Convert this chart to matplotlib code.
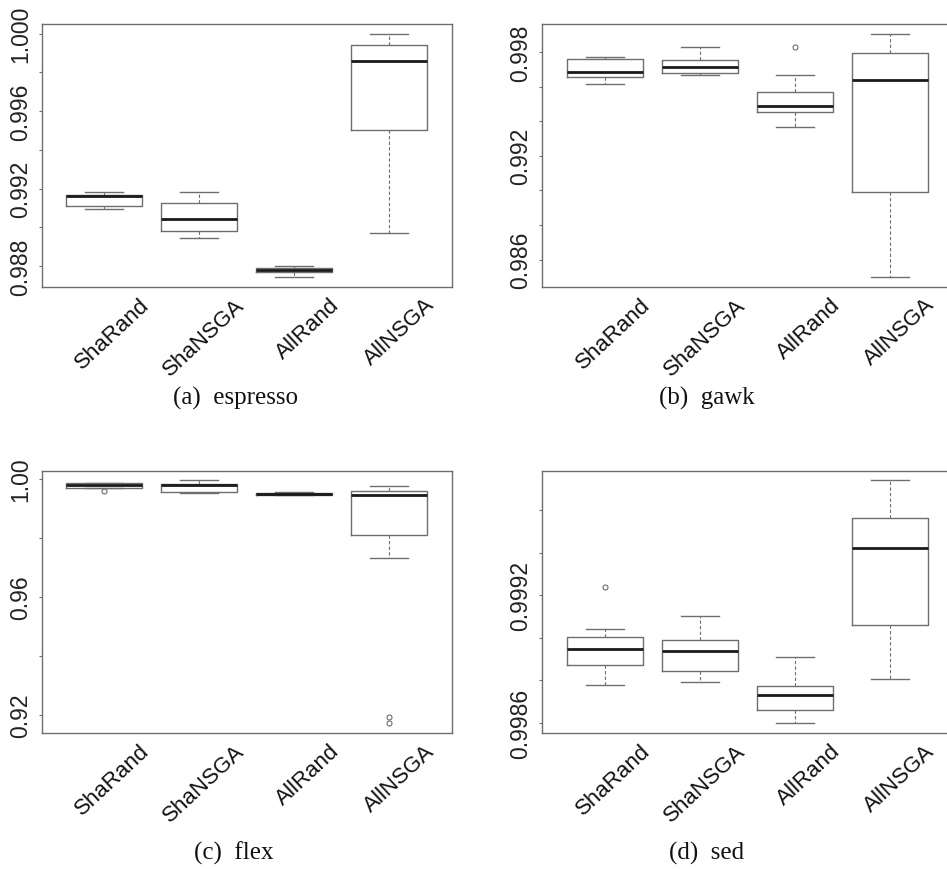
"""Four boxplot panels (espresso, gawk, flex, sed) comparing ShaRand/ShaNSGA/AllRand/AllNSGA."""

import matplotlib

matplotlib.use("Agg")
import matplotlib.pyplot as plt
from matplotlib.ticker import FixedLocator, FixedFormatter

methods = ["ShaRand", "ShaNSGA", "AllRand", "AllNSGA"]

# (a) espresso
espresso_whislo = [0.99095, 0.98946, 0.98743, 0.98971]
espresso_q1 = [0.99112, 0.98978, 0.98767, 0.99504]
espresso_med = [0.99160, 0.99040, 0.98777, 0.99859]
espresso_q3 = [0.99169, 0.99126, 0.98790, 0.99940]
espresso_whishi = [0.99183, 0.99183, 0.98798, 1.00000]
espresso_fliers = [[], [], [], []]
espresso_ticks = [0.988, 0.990, 0.992, 0.994, 0.996, 0.998, 1.000]
espresso_labels = ["0.988", "", "0.992", "", "0.996", "", "1.000"]

# (b) gawk
gawk_whislo = [0.99618, 0.99666, 0.99366, 0.98500]
gawk_q1 = [0.99653, 0.99681, 0.99451, 0.98994]
gawk_med = [0.99685, 0.99712, 0.99489, 0.99639]
gawk_q3 = [0.99762, 0.99756, 0.99572, 0.99793]
gawk_whishi = [0.99773, 0.99831, 0.99670, 0.99906]
gawk_fliers = [[], [], [0.99829], []]
gawk_ticks = [0.986, 0.988, 0.990, 0.992, 0.994, 0.996, 0.998]
gawk_labels = ["0.986", "", "", "0.992", "", "", "0.998"]

# (c) flex
flex_whislo = [0.99680, 0.99525, 0.99443, 0.97328]
flex_q1 = [0.99695, 0.99545, 0.99467, 0.98100]
flex_med = [0.99785, 0.99806, 0.99491, 0.99457]
flex_q3 = [0.99864, 0.99840, 0.99535, 0.99593]
flex_whishi = [0.99874, 0.99952, 0.99559, 0.99773]
flex_fliers = [[0.99590], [], [], [0.91920, 0.91716]]
flex_ticks = [0.92, 0.94, 0.96, 0.98, 1.00]
flex_labels = ["0.92", "", "0.96", "", "1.00"]

# (d) sed
sed_whislo = [0.998777, 0.998792, 0.998597, 0.998807]
sed_q1 = [0.998872, 0.998844, 0.998658, 0.999061]
sed_med = [0.998948, 0.998938, 0.998728, 0.999422]
sed_q3 = [0.999003, 0.998989, 0.998770, 0.999561]
sed_whishi = [0.999041, 0.999100, 0.998910, 0.999739]
sed_fliers = [[0.999237], [], [], []]
sed_ticks = [0.9986, 0.9988, 0.9990, 0.9992, 0.9994, 0.9996]
sed_labels = ["0.9986", "", "", "0.9992", "", ""]

panels = [
    ("(a)  espresso", espresso_whislo, espresso_q1, espresso_med, espresso_q3,
     espresso_whishi, espresso_fliers, espresso_ticks, espresso_labels),
    ("(b)  gawk", gawk_whislo, gawk_q1, gawk_med, gawk_q3,
     gawk_whishi, gawk_fliers, gawk_ticks, gawk_labels),
    ("(c)  flex", flex_whislo, flex_q1, flex_med, flex_q3,
     flex_whishi, flex_fliers, flex_ticks, flex_labels),
    ("(d)  sed", sed_whislo, sed_q1, sed_med, sed_q3,
     sed_whishi, sed_fliers, sed_ticks, sed_labels),
]

W, H = 947, 870
# axes boxes in pixels: left, top, right, bottom
boxes_px = [
    (41.7, 25.0, 451.7, 287.7),
    (542.3, 25.0, 952.3, 287.7),
    (41.7, 471.7, 451.7, 734.0),
    (542.3, 471.7, 952.3, 734.0),
]
caption_px = [(235, 398), (707, 398), (234, 853), (707, 853)]

LINE = "#6e6e6e"
sans = ["Liberation Sans", "DejaVu Sans"]
serif = ["Liberation Serif", "DejaVu Serif"]

fig = plt.figure(figsize=(W / 100, H / 100), dpi=100)

for (caption, wlo, q1, med, q3, whi, fl, ticks, tlabels), (l, t, r, b), (cx, cy) in zip(
        panels, boxes_px, caption_px):
    ax = fig.add_axes([l / W, 1 - b / H, (r - l) / W, (b - t) / H])
    stats = [
        {"whislo": wlo[i], "q1": q1[i], "med": med[i], "q3": q3[i],
         "whishi": whi[i], "fliers": fl[i]}
        for i in range(len(methods))
    ]
    ax.bxp(
        stats, positions=range(1, len(methods) + 1), widths=0.8,
        showcaps=True, showfliers=True, patch_artist=False, manage_ticks=False,
        boxprops=dict(color=LINE, linewidth=1.0),
        medianprops=dict(color="#1a1a1a", linewidth=2.0),
        whiskerprops=dict(color=LINE, linewidth=0.8, linestyle=(0, (3, 2))),
        capprops=dict(color=LINE, linewidth=1.0),
        capwidths=0.4,
        flierprops=dict(marker="o", markersize=3.6, markerfacecolor="none",
                        markeredgecolor=LINE, markeredgewidth=0.8),
    )
    ax.set_xlim(0.34, len(methods) + 0.66)
    lo = min(min(wlo), min([v for f in fl for v in f], default=min(wlo)))
    hi = max(max(whi), max([v for f in fl for v in f], default=max(whi)))
    pad = 0.04 * (hi - lo)
    ax.set_ylim(lo - pad, hi + pad)

    ax.yaxis.set_major_locator(FixedLocator(ticks))
    ax.yaxis.set_major_formatter(FixedFormatter(tlabels))
    ax.tick_params(axis="y", length=2.5, width=0.8, color=LINE, pad=4.5,
                   labelsize=16.5, labelrotation=90)
    for lab in ax.get_yticklabels():
        lab.set_family(sans)
        lab.set_va("center")
        lab.set_color("#222222")
    ax.set_xticks([])
    for sp in ax.spines.values():
        sp.set_color(LINE)
        sp.set_linewidth(1.0)

    # rotated category labels, anchored below the axis
    for i, name in enumerate(methods):
        ax.annotate(
            name, xy=(i + 1 + 0.37, 0), xycoords=("data", "axes fraction"),
            xytext=(0, -7 * 0.72), textcoords="offset points",
            rotation=43, rotation_mode="anchor", ha="right", va="top",
            fontsize=16, family=sans, color="#111111", annotation_clip=False,
        )

    fig.text(cx / W, 1 - cy / H, caption, ha="center", va="center",
             fontsize=18, family=serif, color="#111111")

fig.savefig("out.png", dpi=100)
